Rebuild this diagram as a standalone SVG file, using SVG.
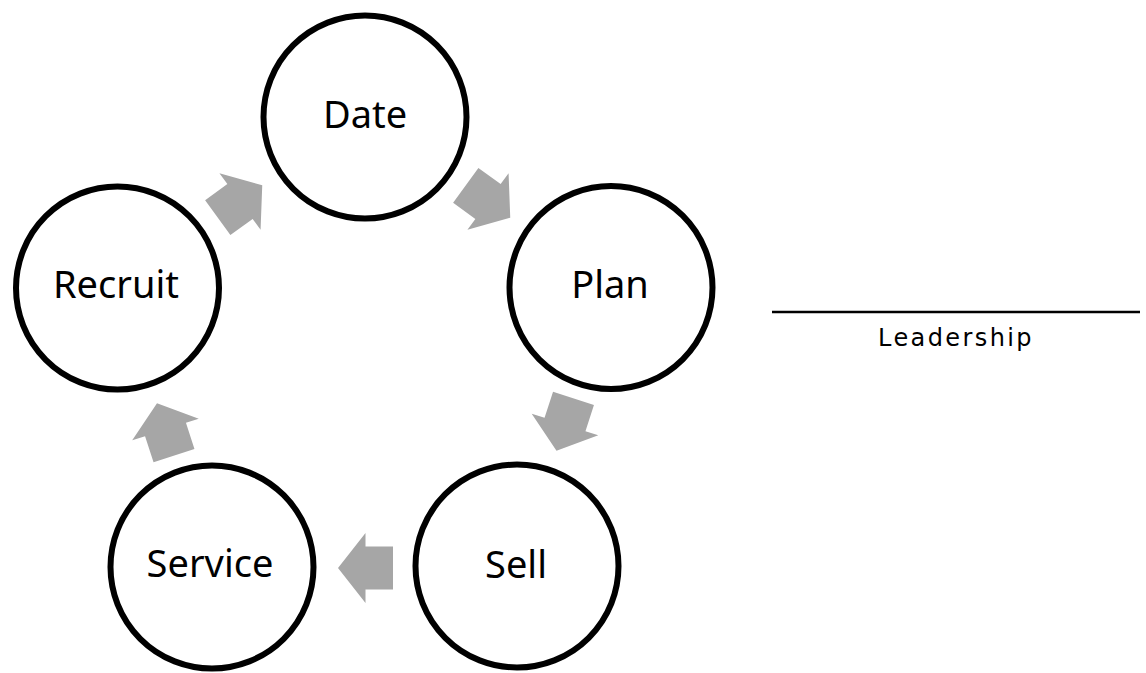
<svg xmlns="http://www.w3.org/2000/svg" width="1146" height="673" viewBox="0 0 1146 673">
  <style>
    .ring { fill: #ffffff; stroke: #000000; stroke-width: 6; }
    .label { font-family: "Noto Sans", "Open Sans", sans-serif; font-size: 38px; fill: #000000; text-anchor: middle; }
    .step { fill: #a6a6a6; }
    .caption { font-family: "DejaVu Sans", "Liberation Sans", sans-serif; font-size: 24px; letter-spacing: 2.4px; fill: #000000; text-anchor: middle; }
  </style>
  <defs>
    <!-- block arrow pointing along +x, centred on the origin -->
    <polygon id="blockArrow" points="-27.5,-21.5 0,-21.5 0,-35 27.5,0 0,35 0,21.5 -27.5,21.5"/>
  </defs>

  <rect width="1146" height="673" fill="#ffffff"/>

  <g id="connectors">
    <use href="#blockArrow" class="step" transform="translate(240,201.5) rotate(-36)"/>
    <use href="#blockArrow" class="step" transform="translate(488,201.5) rotate(36)"/>
    <use href="#blockArrow" class="step" transform="translate(565,424.5) rotate(108)"/>
    <use href="#blockArrow" class="step" transform="translate(365.5,568) rotate(180)"/>
    <use href="#blockArrow" class="step" transform="translate(165.5,429.5) rotate(252)"/>
  </g>

  <g id="node-date">
    <circle class="ring" cx="365" cy="117" r="101.5"/>
    <text class="label" x="365" y="128">Date</text>
  </g>
  <g id="node-plan">
    <circle class="ring" cx="611" cy="287.5" r="101.5"/>
    <text class="label" x="610" y="298">Plan</text>
  </g>
  <g id="node-sell">
    <circle class="ring" cx="517" cy="566" r="101.5"/>
    <text class="label" x="516" y="578">Sell</text>
  </g>
  <g id="node-service">
    <circle class="ring" cx="212" cy="567" r="101.5"/>
    <text class="label" x="210" y="577">Service</text>
  </g>
  <g id="node-recruit">
    <circle class="ring" cx="117.5" cy="288" r="101.5"/>
    <text class="label" x="116" y="298">Recruit</text>
  </g>

  <g id="signature">
    <line x1="772" y1="312" x2="1140" y2="312" stroke="#000000" stroke-width="2.5"/>
    <text class="caption" x="956" y="346">Leadership</text>
  </g>
</svg>
